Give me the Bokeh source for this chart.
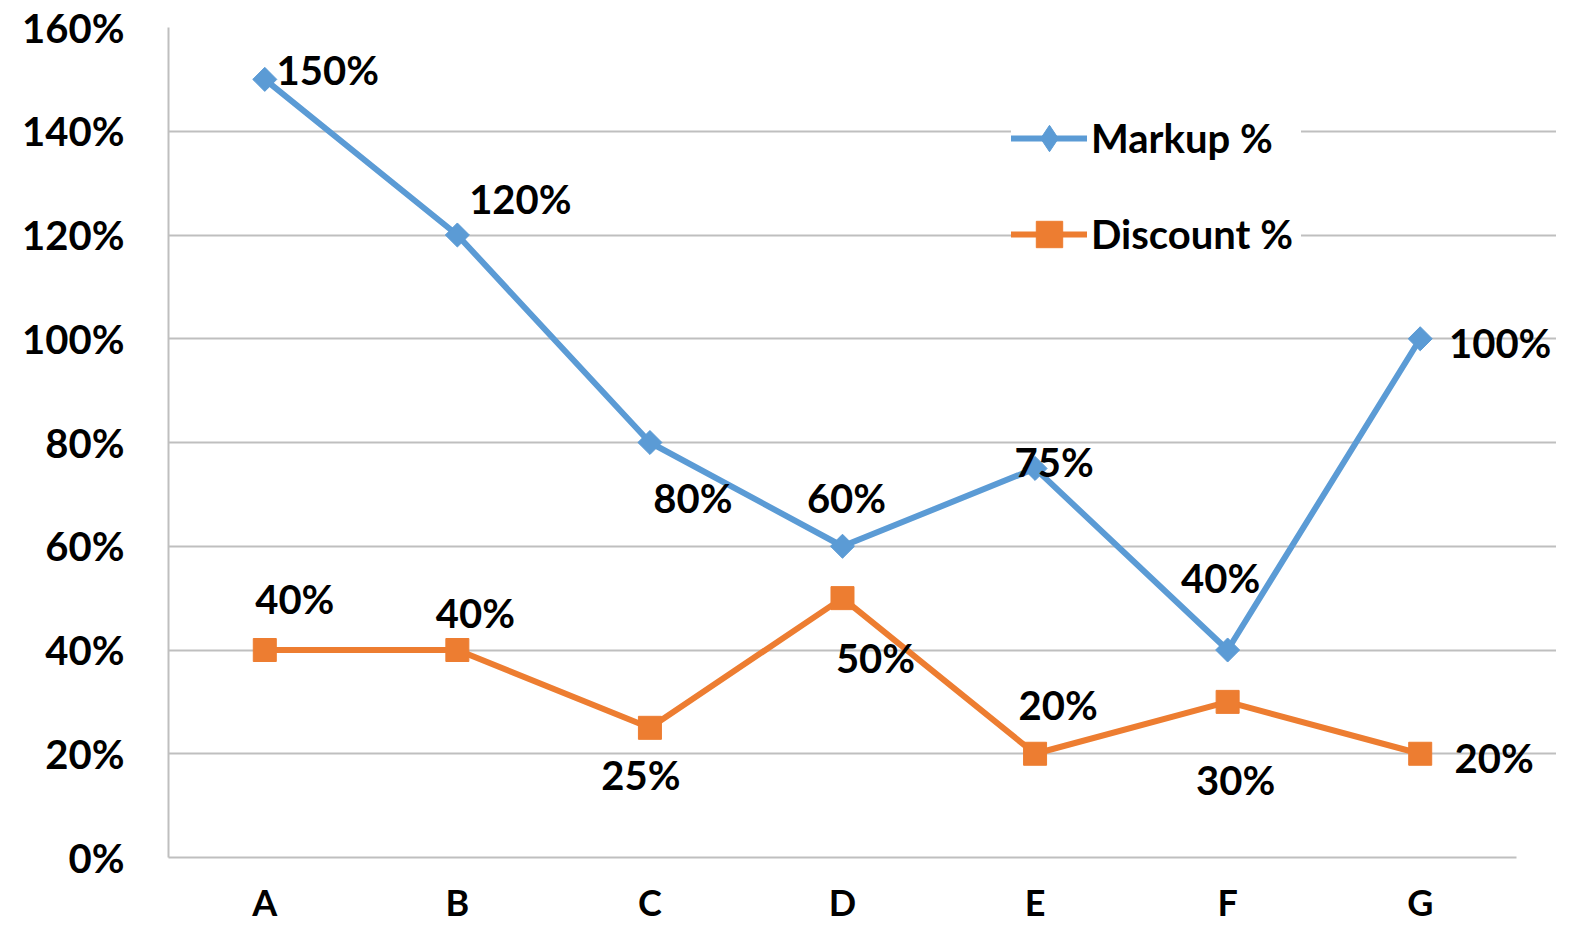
from bokeh.plotting import figure
from bokeh.models import ColumnDataSource, Label, Range1d, FixedTicker, Legend, LegendItem
from bokeh.embed import file_html
from bokeh.resources import INLINE

categories = ["A", "B", "C", "D", "E", "F", "G"]
markup = [150, 120, 80, 60, 75, 40, 100]
discount = [40, 40, 25, 50, 20, 30, 20]
y_ticks = [0, 20, 40, 60, 80, 100, 120, 140, 160]
y_tick_labels = [f"{t}%" for t in y_ticks]

# label placement (screen px offsets from each point; positive dy = up)
markup_dx = [63, 63, 43, 4, 19, -7, 80]
markup_dy = [9, 36, -55, 48, 6, 72, -4]
discount_dx = [30, 18, -9, 33, 23, 8, 74]
discount_dy = [51, 37, -47, -60, 49, -78, -4]

FONT = "Lato"
BLUE = "#5B9BD5"
ORANGE = "#ED7D31"
GRID = "#bfbfbf"

n = len(categories)
xpos = [i + 0.5 for i in range(n)]          # category slot centres
slot_px = 192.57                             # width of one category slot on screen
W, H = 1556, 928
BL, BT, BR, BB = 168, 27, 0, 71
x_end = (W - BL - BR) / slot_px              # frame extends a bit past the last slot

p = figure(x_range=Range1d(0, x_end), y_range=Range1d(0, 160), width=W, height=H,
           output_backend="svg", toolbar_location=None,
           min_border_left=BL, min_border_right=BR, min_border_top=BT, min_border_bottom=BB)
p.outline_line_color = None
p.background_fill_color = "white"
p.border_fill_color = "white"

p.xgrid.grid_line_color = None
p.ygrid.grid_line_color = GRID
p.ygrid.grid_line_width = 2
p.ygrid.bounds = (0, n)

p.yaxis.ticker = FixedTicker(ticks=y_ticks)
p.yaxis.major_label_overrides = dict(zip(y_ticks, y_tick_labels))
p.xaxis.ticker = FixedTicker(ticks=xpos)
p.xaxis.major_label_overrides = dict(zip(xpos, categories))
p.xaxis.bounds = (0, n)
for ax in (p.xaxis[0], p.yaxis[0]):
    ax.axis_line_color = GRID
    ax.axis_line_width = 2
    ax.major_tick_line_color = None
    ax.minor_tick_line_color = None
    ax.major_tick_out = 0
    ax.major_tick_in = 0
    ax.minor_tick_out = 0
    ax.minor_tick_in = 0
    ax.major_label_text_font = FONT
    ax.major_label_text_font_style = "bold"
    ax.major_label_text_color = "black"
p.yaxis.major_label_text_font_size = "40px"
p.yaxis.major_label_standoff = 44
p.xaxis.major_label_text_font_size = "36px"
p.xaxis.major_label_standoff = 22

src_m = ColumnDataSource(dict(x=xpos, y=markup))
src_d = ColumnDataSource(dict(x=xpos, y=discount))

lm = p.line("x", "y", source=src_m, line_color=BLUE, line_width=6, line_join="round", line_cap="round")
# diamond (used as the legend glyph), covered by a rotated square of the same colour
dm = p.scatter("x", "y", source=src_m, marker="diamond", size=22, fill_color=BLUE, line_color=BLUE)
p.scatter("x", "y", source=src_m, marker="square", angle=0.785398, size=17,
          fill_color=BLUE, line_color=BLUE)
ld = p.line("x", "y", source=src_d, line_color=ORANGE, line_width=6, line_join="round", line_cap="round")
sd = p.scatter("x", "y", source=src_d, marker="square", size=23, fill_color=ORANGE, line_color=ORANGE)

for vals, dxs, dys in ((markup, markup_dx, markup_dy), (discount, discount_dx, discount_dy)):
    for x, v, dx, dy in zip(xpos, vals, dxs, dys):
        p.add_layout(Label(x=x, y=v, text=f"{v}%", x_offset=dx, y_offset=dy,
                           text_align="center", text_baseline="middle", text_font=FONT,
                           text_font_style="bold", text_font_size="40px", text_color="black"))

legend = Legend(items=[LegendItem(label="Markup %", renderers=[lm, dm]),
                       LegendItem(label="Discount %", renderers=[ld, sd])],
                location=(843, 590), orientation="vertical",
                glyph_width=76, glyph_height=66, label_standoff=4, spacing=30, padding=20,
                label_width=210, margin=0, background_fill_color="white",
                background_fill_alpha=1.0, border_line_color=None, label_text_font=FONT,
                label_text_font_style="bold", label_text_font_size="40px",
                label_text_color="black")
p.add_layout(legend, "center")

open("out.html", "w").write(file_html(p, INLINE))
